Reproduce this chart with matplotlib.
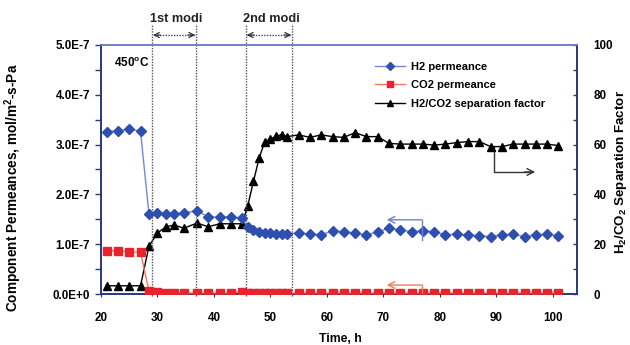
import matplotlib
matplotlib.use("Agg")
import matplotlib.pyplot as plt

plt.rcParams['font.family'] = ['Liberation Sans', 'DejaVu Sans']
plt.rcParams['font.weight'] = 'bold'

# ---- data ----
t_h2 = [21, 23, 25, 27, 28.5, 30, 31.5, 33, 34.7, 37, 39, 41, 43, 45,
        46, 47, 48, 49, 50, 51, 52, 53, 55,
        57, 59, 61, 63, 65, 67, 69, 71, 73, 75, 77, 79, 81, 83, 85, 87, 89,
        91, 93, 95, 97, 99, 101]
h2 = [3.26, 3.28, 3.31, 3.27, 1.60, 1.62, 1.61, 1.61, 1.63, 1.67, 1.55, 1.54, 1.55, 1.52,
      1.35, 1.29, 1.25, 1.23, 1.22, 1.21, 1.21, 1.21, 1.22,
      1.21, 1.19, 1.27, 1.25, 1.22, 1.19, 1.25, 1.32, 1.29, 1.25, 1.27, 1.25, 1.19,
      1.20, 1.19, 1.17, 1.15, 1.19, 1.20, 1.15, 1.19, 1.20, 1.17]
co2 = [0.87, 0.87, 0.84, 0.84, 0.06, 0.04, 0.02, 0.02, 0.02, 0.02, 0.02, 0.02, 0.02, 0.05,
       0.03, 0.02, 0.02, 0.02, 0.02, 0.02, 0.02, 0.02, 0.02,
       0.02, 0.02, 0.02, 0.02, 0.02, 0.02, 0.02, 0.02, 0.02, 0.02, 0.02, 0.02, 0.02,
       0.02, 0.02, 0.02, 0.02, 0.02, 0.02, 0.02, 0.02, 0.02, 0.02]
sf = [3.3, 3.3, 3.3, 3.3, 19.2, 24.5, 27.0, 27.7, 26.4, 28.5, 27.0, 28.2, 28.2, 28.2,
      35.5, 45.2, 54.5, 61.2, 62.1, 63.5, 63.9, 63.2, 63.9,
      62.9, 63.9, 63.2, 62.9, 64.8, 63.2, 63.2, 60.5, 60.2, 60.2, 60.2, 59.8, 60.2,
      60.8, 61.2, 61.2, 59.2, 59.2, 60.2, 60.2, 60.2, 60.2, 59.6]
modi_lines = [29.0, 36.9, 45.6, 53.9]
modi_labels = ["1st modi", "2nd modi"]
perm_ticks = [0, 1e-7, 2e-7, 3e-7, 4e-7, 5e-7]
perm_labels = ["0.0E+0", "1.0E-7", "2.0E-7", "3.0E-7", "4.0E-7", "5.0E-7"]
x_ticks = [20, 30, 40, 50, 60, 70, 80, 90, 100]
sf_ticks = [0, 20, 40, 60, 80, 100]

scale = 1e-7
h2v = [v * scale for v in h2]
co2v = [v * scale for v in co2]

fig = plt.figure(figsize=(6.3, 3.45), dpi=100)
ax = fig.add_axes([0.1603, 0.1478, 0.7556, 0.7218])
ax2 = ax.twinx()

navy = '#27387e'
for side in ['left', 'right', 'bottom']:
    ax.spines[side].set_color(navy)
    ax2.spines[side].set_color(navy)
ax.spines['top'].set_color('#6f7fc8')
ax2.spines['top'].set_color('#6f7fc8')
for a in (ax, ax2):
    for s in a.spines.values():
        s.set_linewidth(1.2)

ax.set_xlim(20, 104.3)
ax.set_ylim(0, 5e-7)
ax2.set_ylim(0, 100)

fs = 8.4
ax.set_xticks(x_ticks)
ax.set_xticklabels([str(v) for v in x_ticks], fontsize=fs, fontweight='bold')
ax.set_yticks(perm_ticks)
ax.set_yticklabels(perm_labels, fontsize=fs, fontweight='bold')
ax.set_yticks([0.5e-7, 1.5e-7, 2.5e-7, 3.5e-7, 4.5e-7], minor=True)
ax.tick_params(axis='y', which='both', direction='out', length=4, width=1, pad=4, color=navy)
ax.tick_params(axis='x', direction='out', length=2, width=0.8, pad=11, color='#333333')

ax2.set_yticks(sf_ticks)
ax2.set_yticklabels([str(v) for v in sf_ticks], fontsize=fs, fontweight='bold')
ax2.set_yticks([10, 30, 50, 70, 90], minor=True)
ax2.tick_params(axis='y', which='both', direction='in', length=3, width=1, pad=12, color=navy)

# vertical dotted modification lines
for xl in modi_lines:
    ax.plot([xl, xl], [-0.01, 1.08], transform=ax.get_xaxis_transform(), clip_on=False,
            color='#555555', linestyle=(0, (1, 1)), linewidth=1.0, zorder=1)

# double arrows and labels
for i in range(2):
    x0, x1 = modi_lines[2 * i], modi_lines[2 * i + 1]
    ax.plot([x0 + 0.3, x1 - 0.3], [1.04, 1.04], transform=ax.get_xaxis_transform(), clip_on=False,
            color='#444444', linestyle=(0, (1, 1)), linewidth=1.0)
    for xa, xb in ((x0 + 1.5, x0 + 0.2), (x1 - 1.5, x1 - 0.2)):
        ax.annotate('', xy=(xb, 1.04), xytext=(xa, 1.04), xycoords=ax.get_xaxis_transform(),
                    textcoords=ax.get_xaxis_transform(),
                    arrowprops=dict(arrowstyle='->', color='#333333', lw=0.9,
                                    mutation_scale=9, shrinkA=0, shrinkB=0, alpha=1),
                    annotation_clip=False)
    ax.text((x0 + x1) / 2 + 0.4, 1.105, modi_labels[i], transform=ax.get_xaxis_transform(),
            ha='center', va='center', fontsize=9.2, fontweight='bold', color='#222222')

# series
l1, = ax.plot(t_h2, h2v, color='#6f8ad8', linewidth=1.0, marker='D', markersize=4.8,
              markerfacecolor='#2f4fae', markeredgecolor='#2f4fae', zorder=4, label='H2 permeance')
l2, = ax.plot(t_h2, co2v, color='#f07a5a', linewidth=1.0, marker='s', markersize=5.8,
              markerfacecolor='#e8232b', markeredgecolor='#e8232b', zorder=3, label='CO2 permeance')
l3, = ax2.plot(t_h2, sf, color='black', linewidth=1.0, marker='^', markersize=5.8,
               markerfacecolor='black', markeredgecolor='black', zorder=5,
               label='H2/CO2 separation factor')
ax.set_zorder(ax2.get_zorder() + 1)
ax.patch.set_visible(False)

# indicator arrows
ax2.plot([89.6, 89.6, 96.0], [59.0, 49.0, 49.0], color='#333333', linewidth=1.0)
ax2.annotate('', xy=(96.9, 49.0), xytext=(95.0, 49.0),
             arrowprops=dict(arrowstyle='->', color='#333333', lw=1.0, mutation_scale=12,
                             shrinkA=0, shrinkB=0))
ax.plot([76.8, 76.8], [1.08e-7, 1.49e-7], color='#6f7fd0', linewidth=1.0, zorder=6)
ax.annotate('', xy=(70.6, 1.49e-7), xytext=(76.8, 1.49e-7),
            arrowprops=dict(arrowstyle='->', color='#6f7fd0', lw=1.0, mutation_scale=12,
                            shrinkA=0, shrinkB=0), zorder=6)
ax.plot([76.8, 76.8], [0.0, 0.18e-7], color='#f07a5a', linewidth=1.0, zorder=6)
ax.annotate('', xy=(70.6, 0.18e-7), xytext=(76.8, 0.18e-7),
            arrowprops=dict(arrowstyle='->', color='#f07a5a', lw=1.0, mutation_scale=12,
                            shrinkA=0, shrinkB=0), zorder=6)

ax.text(0.028, 0.928, r'450$^{\mathregular{o}}$C', transform=ax.transAxes, fontsize=8.5,
        fontweight='bold', ha='left', va='center')

leg = ax.legend(handles=[l1, l2, l3], loc='upper left', bbox_to_anchor=(0.567, 0.95),
                frameon=False, fontsize=8.0, handlelength=2.7, handletextpad=0.5,
                labelspacing=0.75, borderaxespad=0, markerscale=0.8)
for txt in leg.get_texts():
    txt.set_fontweight('bold')

fig.text(13 / 630, 1 - 188 / 345, 'Component Permeances, mol/m$^{\\mathregular{2}}$-s-Pa',
         rotation=90, ha='center', va='center', fontsize=9.8, fontweight='bold')
fig.text(621 / 630, 1 - 172 / 345, 'H$_{\\mathregular{2}}$/CO$_{\\mathregular{2}}$ Separation Factor',
         rotation=90, ha='center', va='center', fontsize=9.6, fontweight='bold')
fig.text(340 / 630, 1 - 339 / 345, 'Time, h', ha='center', va='center', fontsize=8.8,
         fontweight='bold')

fig.savefig('out.png', dpi=100)
